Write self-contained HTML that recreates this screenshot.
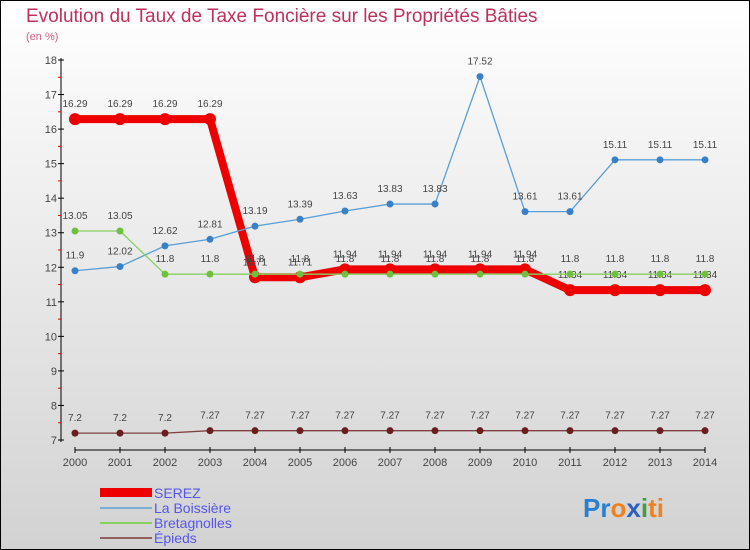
<!DOCTYPE html>
<html><head><meta charset="utf-8"><style>
body{margin:0}
svg{display:block;font-family:"Liberation Sans",sans-serif}
</style></head><body>
<svg width="750" height="550">
<defs><linearGradient id="bg" x1="0" y1="0" x2="0" y2="1"><stop offset="0" stop-color="#ffffff"/><stop offset="1" stop-color="#d2d2d2"/></linearGradient></defs>
<rect x="0.5" y="0.5" width="749" height="549" fill="url(#bg)" stroke="#000"/>
<text x="26" y="22" font-size="19" fill="#c0305a">Evolution du Taux de Taxe Foncière sur les Propriétés Bâties</text>
<text x="26" y="40" font-size="11" fill="#d06080">(en %)</text>
<g id="axes"></g><g id="series"></g>
<g>
<rect x="100" y="488" width="52" height="9" fill="#e00"/>
<text x="154" y="498" font-size="14" fill="#5555ee">SEREZ</text>
<line x1="100" y1="508" x2="152" y2="508" stroke="#7aaed6" stroke-width="2"/>
<text x="154" y="513" font-size="14" fill="#5555ee">La Boissière</text>
<line x1="100" y1="523" x2="152" y2="523" stroke="#88d060" stroke-width="2"/>
<text x="154" y="528" font-size="14" fill="#5555ee">Bretagnolles</text>
<line x1="100" y1="538" x2="152" y2="538" stroke="#906060" stroke-width="2"/>
<text x="154" y="543" font-size="14" fill="#5555ee">Épieds</text>
</g>
<text x="583" y="517" font-size="26" font-weight="bold"><tspan fill="#2a80d0">Pr</tspan><tspan fill="#f08020">o</tspan><tspan fill="#2a60c0">x</tspan><tspan fill="#40a040">i</tspan><tspan fill="#f08020">ti</tspan></text>
</svg>
<script>
const years=[2000,2001,2002,2003,2004,2005,2006,2007,2008,2009,2010,2011,2012,2013,2014];
const serez=[16.29,16.29,16.29,16.29,11.71,11.71,11.94,11.94,11.94,11.94,11.94,11.34,11.34,11.34,11.34];
const boissiere=[11.9,12.02,12.62,12.81,13.19,13.39,13.63,13.83,13.83,17.52,13.61,13.61,15.11,15.11,15.11];
const bretagnolles=[13.05,13.05,11.8,11.8,11.8,11.8,11.8,11.8,11.8,11.8,11.8,11.8,11.8,11.8,11.8];
const epieds=[7.2,7.2,7.2,7.27,7.27,7.27,7.27,7.27,7.27,7.27,7.27,7.27,7.27,7.27,7.27];
const yTicks=[7,8,9,10,11,12,13,14,15,16,17,18];
const NS="http://www.w3.org/2000/svg";
const X=i=>75+i*45, Y=v=>440-(v-7)*(380/11);
function mk(t,a,p){const e=document.createElementNS(NS,t);for(const k in a)e.setAttribute(k,a[k]);p.appendChild(e);return e;}
const ax=document.getElementById('axes');
const ya=mk('line',{x1:61,y1:58,x2:61,y2:442,stroke:'#000'},ax);


const xa=mk('line',{x1:75,y1:450,x2:705,y2:450,stroke:'#000'},ax);


yTicks.forEach(v=>{mk('line',{x1:58,y1:Y(v),x2:64,y2:Y(v),stroke:'#000'},ax);
 if(v<18)mk('line',{x1:58,y1:Y(v+0.5),x2:61,y2:Y(v+0.5),stroke:'#e00'},ax);
 const t=mk('text',{x:57,y:Y(v)+4,'font-size':11,fill:'#444','text-anchor':'end'},ax);t.textContent=v;
 
 });
years.forEach((yr,i)=>{mk('line',{x1:X(i),y1:447,x2:X(i),y2:453,stroke:'#000'},ax);
 const t=mk('text',{x:X(i),y:466,'font-size':11,fill:'#444','text-anchor':'middle'},ax);t.textContent=yr;
 
 });
const sg=document.getElementById('series');
function draw(name,data,color,w,r,dot){
 const g=mk('g',{},sg);
 
 
 mk('polyline',{points:data.map((v,i)=>X(i)+','+Y(v)).join(' '),fill:'none',stroke:color,'stroke-width':w,'stroke-linejoin':'round'},g);
 data.forEach((v,i)=>{const c=mk('circle',{cx:X(i),cy:Y(v),r:r,fill:dot},g);
  
  
  const t=mk('text',{x:X(i),y:Y(v)-12,'font-size':10,fill:'#444','text-anchor':'middle'},g);t.textContent=v;
  
  });
}
draw('serez',serez,'#e00',8,6,'#e00');
draw('boissiere',boissiere,'#5a9ed6',1.3,3.5,'#3a80c8');
draw('bretagnolles',bretagnolles,'#88d060',1.3,3.5,'#70c040');
draw('epieds',epieds,'#804040',1.3,3.5,'#6a1e1e');
</script>
</body></html>
